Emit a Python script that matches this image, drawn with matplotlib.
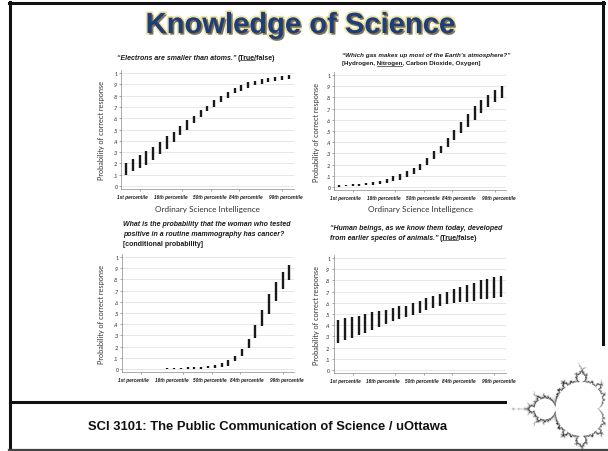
import numpy as np
import matplotlib
matplotlib.use('Agg')
import matplotlib.pyplot as plt
import matplotlib.patheffects as pe
from matplotlib.lines import Line2D
from matplotlib.font_manager import FontProperties, findfont, get_font

# ---- data ----
bar_pos = np.arange(25)
pct_labels = ['1st percentile', '16th percentile', '50th percentile', '84th percentile', '99th percentile']
prob_ticks = [0, .1, .2, .3, .4, .5, .6, .7, .8, .9, 1]
prob_labels = ['0', '.1', '.2', '.3', '.4', '.5', '.6', '.7', '.8', '.9', '1']

electron_lo = [0.10, 0.135, 0.155, 0.19, 0.23, 0.28, 0.33, 0.39, 0.45, 0.50, 0.56, 0.61, 0.66,
               0.70, 0.74, 0.78, 0.82, 0.84, 0.87, 0.89, 0.905, 0.92, 0.93, 0.935, 0.945]
electron_hi = [0.20, 0.24, 0.275, 0.31, 0.345, 0.39, 0.44, 0.48, 0.53, 0.58, 0.62, 0.67, 0.71,
               0.76, 0.80, 0.83, 0.87, 0.89, 0.92, 0.93, 0.95, 0.96, 0.965, 0.97, 0.98]

gas_lo = [0.0, 0.005, 0.01, 0.012, 0.018, 0.022, 0.03, 0.04, 0.05, 0.065, 0.09, 0.12, 0.155,
          0.20, 0.25, 0.30, 0.36, 0.42, 0.48, 0.54, 0.60, 0.66, 0.71, 0.76, 0.79]
gas_hi = [0.015, 0.02, 0.025, 0.03, 0.038, 0.045, 0.055, 0.07, 0.095, 0.12, 0.14, 0.17, 0.21,
          0.26, 0.32, 0.37, 0.44, 0.51, 0.58, 0.65, 0.72, 0.78, 0.82, 0.87, 0.90]

mammo_lo = [np.nan] * 6 + [0.0, 0.0, 0.0, 0.0, 0.0, 0.002, 0.005, 0.01, 0.02, 0.03, 0.07, 0.12,
                           0.19, 0.28, 0.38, 0.49, 0.61, 0.71, 0.79]
mammo_hi = [np.nan] * 6 + [0.012, 0.012, 0.012, 0.014, 0.016, 0.02, 0.025, 0.04, 0.05, 0.08,
                           0.12, 0.18, 0.27, 0.39, 0.53, 0.67, 0.78, 0.87, 0.93]

evo_lo = [0.245, 0.265, 0.285, 0.31, 0.33, 0.36, 0.385, 0.41, 0.435, 0.455, 0.47, 0.49, 0.51,
          0.535, 0.55, 0.57, 0.585, 0.60, 0.61, 0.61, 0.62, 0.63, 0.63, 0.64, 0.65]
evo_hi = [0.45, 0.46, 0.475, 0.48, 0.50, 0.52, 0.53, 0.54, 0.55, 0.57, 0.575, 0.60, 0.62,
          0.64, 0.66, 0.68, 0.70, 0.72, 0.74, 0.76, 0.78, 0.80, 0.81, 0.83, 0.84]

tick_pos = [2.1, 8.3, 12.6, 16.7, 23.0]
label_pos = [1.0, 6.6, 12.3, 17.7, 23.6]

W, H = 608, 452
fig = plt.figure(figsize=(6.08, 4.52), dpi=100)
fig.patch.set_facecolor('white')
LFONT = 'Lato'
BFONT = 'Liberation Sans'


def fx(x):
    return x / W


def fy(y):
    return 1 - y / H


def panel(x0, x1, y0, y1, lo, hi):
    ax = fig.add_axes([fx(x0), fy(y1), (x1 - x0) / W, (y1 - y0) / H])
    ax.vlines(bar_pos, lo, hi, colors='#1a1a1a', linewidth=1.7)
    ax.set_xlim(-0.7, 24.7)
    ax.set_ylim(-0.03, 1.03)
    ax.set_yticks(prob_ticks)
    ax.set_yticklabels(prob_labels, fontsize=3.8, color='#333333', family=LFONT)
    ax.set_xticks(tick_pos)
    ax.set_xticklabels([])
    ax.set_xticks(label_pos, minor=True)
    ax.set_xticklabels(pct_labels, minor=True, fontsize=3.4, fontweight='bold',
                       fontstyle='italic', family=BFONT, color='#1a1a1a')
    ax.tick_params(axis='x', which='minor', length=0, pad=3.4)
    ax.tick_params(axis='x', which='major', length=1.6, width=0.4, color='#666666')
    ax.tick_params(axis='y', length=1.6, width=0.4, color='#666666', pad=0.8)
    ax.grid(axis='y', color='#e3e3e3', linewidth=0.6)
    ax.set_axisbelow(True)
    for s in ['top', 'right']:
        ax.spines[s].set_visible(False)
    for s in ['left', 'bottom']:
        ax.spines[s].set_color('#888888')
        ax.spines[s].set_linewidth(0.5)
    return ax


ax1 = panel(121.3, 293.5, 70.6, 190.4, electron_lo, electron_hi)
ax2 = panel(334.3, 506.5, 72.6, 191.4, gas_lo, gas_hi)
ax3 = panel(121.9, 294.1, 254.6, 373.4, mammo_lo, mammo_hi)
ax4 = panel(333.6, 505.8, 255.6, 374.4, evo_lo, evo_hi)

for ax, yl in [(ax1, 101.7), (ax2, 316.7), (ax3, 101.7), (ax4, 316.7)]:
    b = ax.get_position()
    fig.text(fx(yl), b.y0 + b.height / 2, 'Probability of correct response', rotation=90,
             ha='center', va='center', fontsize=5.3, family=LFONT, color='#333333')
for ax in [ax1, ax2]:
    b = ax.get_position()
    fig.text(b.x0 + b.width / 2, fy(210), 'Ordinary Science Intelligence', ha='center',
             va='center', fontsize=5.9, family=LFONT, color='#333333')


# ---- titles: an italic part, an upright part, one underlined word ----
def adv(s, italic, size):
    fp = FontProperties(family=BFONT, weight='bold', style='italic' if italic else 'normal')
    font = get_font(findfont(fp))
    font.set_size(size, 100)
    return sum(font.load_char(ord(c)).linearHoriAdvance for c in s) / 65536.0


def line(x, y, ital='', upright='', ul_word=None, size=5.0, center=False):
    sep = ' ' if ital and upright else ''
    wi = adv(ital + sep, True, size) if ital else 0
    wu = adv(upright, False, size) if upright else 0
    x0 = x - (wi + wu) / 2 if center else x
    if ital:
        fig.text(fx(x0), fy(y), ital, fontsize=size, fontweight='bold', fontstyle='italic',
                 family=BFONT, ha='left', va='baseline', color='#1a1a1a')
    if upright:
        xu = x0 + wi
        fig.text(fx(xu), fy(y), upright, fontsize=size, fontweight='bold', family=BFONT,
                 ha='left', va='baseline', color='#1a1a1a')
        if ul_word:
            i = upright.index(ul_word)
            a = xu + adv(upright[:i], False, size)
            b = xu + adv(upright[:i + len(ul_word)], False, size)
            fig.add_artist(Line2D([fx(a), fx(b)], [fy(y + 1.0)] * 2, lw=0.45, color='#1a1a1a'))


line(196, 60, '\u201cElectrons are smaller than atoms.\u201d', '(True/false)', 'True', center=True)

line(342, 57, '\u201cWhich gas makes up most of the Earth\u2019s atmosphere?\u201d', size=4.5)
line(342, 65.5, upright='[Hydrogen, Nitrogen, Carbon Dioxide, Oxygen]', ul_word='Nitrogen', size=4.5)

line(123, 226.5, 'What is the probability that the woman who tested')
line(123, 236.5, 'positive in a routine mammography has cancer?')
line(123, 246, upright='[conditional probability]')

line(330, 230, '\u201cHuman beings, as we know them today, developed')
line(330, 240, 'from earlier species of animals.\u201d', '(True/false)', 'True')

# ---- slide title and footer ----
fig.text(fx(300), fy(26), 'Knowledge of Science', ha='center', va='center', fontsize=21,
         fontweight='bold', family=BFONT, color='#1f3d78',
         path_effects=[pe.Stroke(linewidth=2.5, foreground='#efe3a0'),
                       pe.SimplePatchShadow(offset=(1.2, -1.2), shadow_rgbFace='#2b2b2b', alpha=0.6),
                       pe.Normal()])
fig.text(fx(268), fy(427), 'SCI 3101: The Public Communication of Science / uOttawa',
         ha='center', va='center', fontsize=9.4, fontweight='bold', family=BFONT,
         color='#111111')

# ---- Mandelbrot logo in the corner ----
axm = fig.add_axes([fx(495), fy(452), 113 / W, 97 / H])
axm.set_zorder(-1)
xs = np.linspace(-2.2, 0.514, 452)
ys = np.linspace(-1.01, 1.32, 388)
X, Y = np.meshgrid(xs, ys)
C = X + 1j * Y
Z = np.zeros_like(C)
count = np.zeros(C.shape)
alive = np.ones(C.shape, dtype=bool)
for k in range(120):
    Z[alive] = Z[alive] ** 2 + C[alive]
    esc = alive & (np.abs(Z) > 2)
    count[esc] = k
    alive &= ~esc
dark = np.clip((count - 8) / 25.0, 0, 1)
dark[alive] = 0
axm.imshow(dark, cmap='gray_r', origin='lower', extent=[xs[0], xs[-1], ys[0], ys[-1]],
           aspect='auto', vmin=0, vmax=1, interpolation='antialiased')
axm.set_axis_off()

# ---- slide frame ----
fc = '#111111'
fig.add_artist(Line2D([fx(9), fx(604)], [fy(4)] * 2, lw=2.2, color=fc))
fig.add_artist(Line2D([fx(10)] * 2, [fy(3), fy(452)], lw=2.2, color=fc))
fig.add_artist(Line2D([fx(603)] * 2, [fy(3), fy(345)], lw=2.2, color=fc))
fig.add_artist(Line2D([fx(9), fx(608)], [fy(450.5)] * 2, lw=1.6, color='#444444'))
fig.add_artist(Line2D([fx(10), fx(505)], [fy(403)] * 2, lw=2.2, color=fc))

fig.savefig('out.png', dpi=100)
